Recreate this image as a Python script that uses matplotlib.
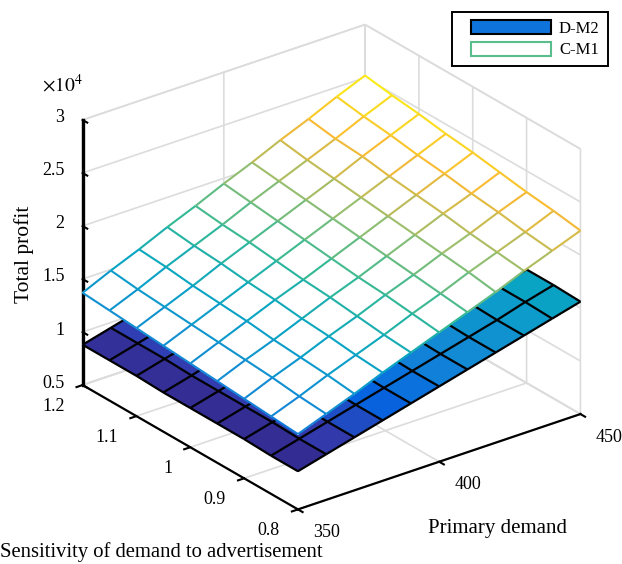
import numpy as np
import matplotlib
matplotlib.use("Agg")
import matplotlib.pyplot as plt
from matplotlib.colors import LinearSegmentedColormap, Normalize
from matplotlib.legend_handler import HandlerPatch
from matplotlib.patches import Patch, Rectangle
from mpl_toolkits.mplot3d import proj3d
from mpl_toolkits.mplot3d.art3d import Line3DCollection

plt.rcParams['font.family'] = ['Liberation Serif', 'DejaVu Serif']
plt.rcParams['mathtext.fontset'] = 'stix'

demand = [350, 360, 370, 380, 390, 400, 410, 420, 430, 440, 450]
sensitivity = [0.8, 0.85, 0.9, 0.95, 1.0, 1.05, 1.1, 1.15, 1.2]

# rows follow sensitivity, columns follow demand, in units of 10^4
profit_c_m1 = [
    [1.21, 1.31, 1.41, 1.52, 1.62, 1.72, 1.82, 1.92, 2.03, 2.13, 2.23],
    [1.23, 1.33, 1.44, 1.54, 1.64, 1.75, 1.85, 1.96, 2.06, 2.16, 2.27],
    [1.25, 1.36, 1.46, 1.57, 1.67, 1.78, 1.88, 1.99, 2.09, 2.20, 2.30],
    [1.27, 1.38, 1.48, 1.59, 1.70, 1.80, 1.91, 2.02, 2.13, 2.23, 2.34],
    [1.29, 1.40, 1.51, 1.62, 1.72, 1.83, 1.94, 2.05, 2.16, 2.27, 2.38],
    [1.31, 1.42, 1.53, 1.64, 1.75, 1.86, 1.97, 2.08, 2.19, 2.30, 2.41],
    [1.33, 1.44, 1.55, 1.67, 1.78, 1.89, 2.00, 2.11, 2.23, 2.34, 2.45],
    [1.35, 1.46, 1.58, 1.69, 1.80, 1.92, 2.03, 2.14, 2.25, 2.37, 2.48],
    [1.37, 1.49, 1.60, 1.72, 1.83, 1.95, 2.06, 2.18, 2.29, 2.41, 2.52],
]
profit_d_m2 = [
    [0.86, 0.93, 1.00, 1.07, 1.14, 1.21, 1.28, 1.35, 1.42, 1.49, 1.56],
    [0.86, 0.93, 1.00, 1.07, 1.14, 1.21, 1.28, 1.35, 1.42, 1.50, 1.57],
    [0.87, 0.94, 1.01, 1.08, 1.15, 1.22, 1.29, 1.36, 1.43, 1.50, 1.57],
    [0.87, 0.94, 1.01, 1.08, 1.15, 1.22, 1.29, 1.36, 1.43, 1.50, 1.58],
    [0.87, 0.94, 1.01, 1.08, 1.15, 1.23, 1.30, 1.37, 1.44, 1.51, 1.58],
    [0.87, 0.94, 1.02, 1.09, 1.16, 1.23, 1.30, 1.37, 1.44, 1.51, 1.59],
    [0.88, 0.95, 1.02, 1.09, 1.16, 1.23, 1.31, 1.38, 1.45, 1.52, 1.59],
    [0.88, 0.95, 1.02, 1.09, 1.16, 1.24, 1.31, 1.38, 1.45, 1.52, 1.60],
    [0.88, 0.95, 1.02, 1.10, 1.17, 1.24, 1.31, 1.38, 1.46, 1.53, 1.60],
]

x_ticks = [350, 400, 450]
x_labels = ['350', '400', '450']
y_ticks = [0.8, 0.9, 1.0, 1.1, 1.2]
y_labels = ['0.8', '0.9', '1', '1.1', '1.2']
z_ticks = [0.5, 1, 1.5, 2, 2.5, 3]
z_labels = ['0.5', '1', '1.5', '2', '2.5', '3']

# colours as they appear in the picture, low to high profit
cmap_stops = [(0.00, '#342687'), (0.07, '#323CAF'), (0.15, '#0564E1'), (0.25, '#1487D7'),
              (0.42, '#08A5C3'), (0.55, '#32B996'), (0.70, '#96BE6E'), (0.85, '#FAB932'),
              (1.00, '#FAF014')]
cmap = LinearSegmentedColormap.from_list('picture', cmap_stops)

W, H = 622, 564
fig = plt.figure(figsize=(W / 100, H / 100), dpi=100, facecolor='white')

side = 565.6
cx, cy = 331.5, 564 - 267
left = cx - 0.5135 * side
bottom = cy - 0.5135 * side
ax = fig.add_axes([left / W, bottom / H, side / W, side / H], projection='3d',
                  computed_zorder=False, proj_type='ortho')
ax.view_init(elev=26.2, azim=-127.4)
ax.set_box_aspect((355, 354, 295))
ax.set_xlim(350, 450, view_margin=0)
ax.set_ylim(0.8, 1.2, view_margin=0)
ax.set_zlim(0.5, 3, view_margin=0)

X, Y = np.meshgrid(demand, sensitivity)
Zc = np.array(profit_c_m1)
Zd = np.array(profit_d_m2)
norm = Normalize(vmin=Zd.min(), vmax=Zc.max())


def cell_colors(Z):
    mean = (Z[:-1, :-1] + Z[1:, :-1] + Z[:-1, 1:] + Z[1:, 1:]) / 4
    return cmap(norm(mean))


def grid_lines(Z):
    P = np.stack([X, Y, Z], axis=-1)
    segs = np.concatenate([
        np.stack([P[:-1, :], P[1:, :]], axis=2).reshape(-1, 2, 3),
        np.stack([P[:, :-1], P[:, 1:]], axis=2).reshape(-1, 2, 3)])
    return segs, cmap(norm(segs[:, :, 2].mean(axis=1)))


ax.plot_surface(X, Y, Zd, rstride=1, cstride=1, facecolors=cell_colors(Zd), edgecolor='none',
                linewidth=0, shade=False, antialiased=False, zorder=3)
segs_d, _ = grid_lines(Zd)
ax.add_collection3d(Line3DCollection(segs_d, colors='black', linewidths=1.6, zorder=4))

white = np.ones(Zc[:-1, :-1].shape + (4,))
ax.plot_surface(X, Y, Zc, rstride=1, cstride=1, facecolors=white, edgecolor='none',
                linewidth=0, shade=False, antialiased=False, zorder=5)
segs_c, colors_c = grid_lines(Zc)
ax.add_collection3d(Line3DCollection(segs_c, colors=colors_c, linewidths=1.5, zorder=6))

ax.set_xticks(x_ticks)
ax.set_yticks(y_ticks)
ax.set_zticks(z_ticks)
ax.set_xticklabels([])
ax.set_yticklabels([])
ax.set_zticklabels([])
# z ticks run along the sensitivity direction, and the left edge keeps the axis
ax.zaxis._get_tickdir = lambda position: 1

for axis in (ax.xaxis, ax.yaxis, ax.zaxis):
    axis.set_pane_color((1, 1, 1, 1))
    axis.pane.set_edgecolor('#DCDCDC')
    axis.pane.set_linewidth(1.2)
    axis.line.set_color('black')
    axis.line.set_linewidth(1.6)
    axis._axinfo['grid'].update(color='#DCDCDC', linewidth=1.2)
    axis._axinfo['tick'].update(inward_factor=0.27, outward_factor=0.0,
                                linewidth={True: 1.5, False: 1.5})
ax.zaxis.line.set_linewidth(2.4)


def tick_text(x, y, z, label, dx, dy, ha):
    px, py, _ = proj3d.proj_transform(x, y, z, ax.get_proj())
    ax.annotate(label, (px, py), xytext=(dx, dy), textcoords='offset pixels', ha=ha, va='center',
                fontsize=13, annotation_clip=False)


for v, s in zip(x_ticks, x_labels):
    tick_text(v, 0.8, 0.5, s, 15, -23, 'left')
for v, s in zip(y_ticks, y_labels):
    tick_text(350, v, 0.5, s, -18, -21, 'right')
for v, s in zip(z_ticks, z_labels):
    tick_text(350, 1.2, v, s, -18, 2, 'right')

fig.text(24 / W, 1 - 254 / H, 'Total profit', rotation=90, ha='center', va='center', fontsize=15.5)
fig.text(0 / W, 1 - 552 / H, 'Sensitivity of demand to advertisement', ha='left', va='center', fontsize=14.9)
fig.text(497 / W, 1 - 529 / H, 'Primary demand', ha='center', va='center', fontsize=15)
fig.text(42 / W, 1 - 85 / H, r'$\times 10^{4}$', ha='left', va='center', fontsize=14)


def legend_box(legend, orig_handle, xdescent, ydescent, width, height, fontsize):
    return Rectangle((-xdescent + 8, -ydescent), width - 8, height)


handles = [Patch(facecolor='#0F73DC', edgecolor='black', linewidth=1.5, label='D-M2'),
           Patch(facecolor='white', edgecolor='#5ABE8C', linewidth=1.5, label='C-M1')]
leg = fig.legend(handles=handles, loc='upper left', bbox_to_anchor=(452 / W, 1 - 12 / H), fontsize=12,
                 fancybox=False, framealpha=1, edgecolor='black', handlelength=5.46, handleheight=0.9,
                 borderaxespad=0, borderpad=0.48, labelspacing=0.3, handletextpad=0.48,
                 handler_map={Patch: HandlerPatch(patch_func=legend_box)})
leg.get_frame().set_linewidth(1.4)

fig.savefig('out.png', dpi=100)
